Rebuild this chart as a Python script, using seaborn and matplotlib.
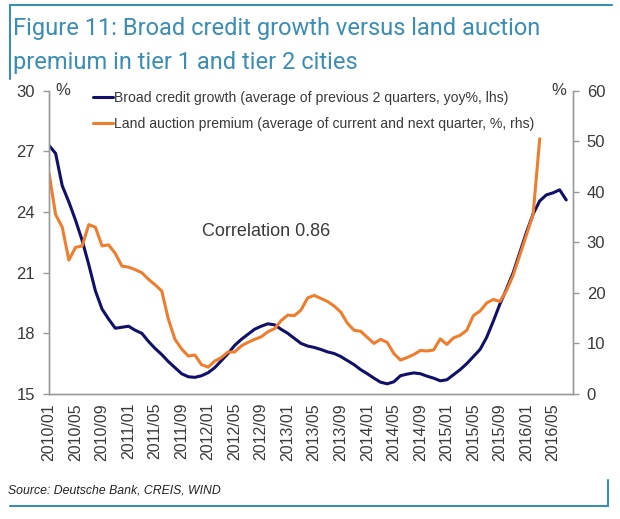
import matplotlib
matplotlib.use("Agg")
import matplotlib.pyplot as plt
import numpy as np
import pandas as pd
import seaborn as sns
from matplotlib.lines import Line2D
from matplotlib.ticker import MultipleLocator

# Monthly data, 2010/01 onwards
credit_growth = [27.3, 26.9, 25.3, 24.5, 23.6, 22.6, 21.4, 20.1, 19.2, 18.7,
                 18.25, 18.3, 18.35, 18.15, 18.0, 17.6, 17.25, 16.95, 16.6, 16.3,
                 16.0, 15.85, 15.82, 15.9, 16.05, 16.3, 16.65, 17.0, 17.4, 17.7,
                 17.95, 18.2, 18.35, 18.47, 18.42, 18.2, 18.0, 17.75, 17.5, 17.37,
                 17.3, 17.2, 17.08, 17.0, 16.85, 16.65, 16.45, 16.2, 16.0, 15.78,
                 15.58, 15.5, 15.6, 15.9, 15.98, 16.04, 16.0, 15.88, 15.78, 15.65,
                 15.7, 15.95, 16.2, 16.5, 16.85, 17.2, 17.8, 18.6, 19.45, 20.2,
                 21.0, 22.0, 23.0, 23.9, 24.55, 24.85, 24.95, 25.1, 24.6]
land_premium = [43.8, 35.5, 33.0, 26.5, 29.0, 29.3, 33.5, 33.0, 29.3, 29.5,
                27.8, 25.3, 25.1, 24.6, 24.0, 22.7, 21.6, 20.4, 14.8, 10.8,
                8.9, 7.5, 7.7, 5.8, 5.3, 6.5, 7.2, 8.3, 8.3, 9.5,
                10.2, 10.8, 11.3, 12.3, 12.9, 14.5, 15.6, 15.5, 16.6, 19.0,
                19.5, 18.9, 18.3, 17.4, 16.2, 14.0, 12.6, 12.4, 11.2, 10.0,
                10.8, 10.2, 8.0, 6.7, 7.2, 7.8, 8.6, 8.5, 8.7, 10.9,
                9.8, 11.1, 11.6, 12.6, 15.5, 16.4, 18.0, 18.7, 18.3, 20.5,
                23.5, 27.5, 31.5, 35.5, 50.5]
tick_labels = ["2010/01", "2010/05", "2010/09", "2011/01", "2011/05", "2011/09",
               "2012/01", "2012/05", "2012/09", "2013/01", "2013/05", "2013/09",
               "2014/01", "2014/05", "2014/09", "2015/01", "2015/05", "2015/09",
               "2016/01", "2016/05"]

df_credit = pd.DataFrame({"month": range(len(credit_growth)), "value": credit_growth})
df_land = pd.DataFrame({"month": range(len(land_premium)), "value": land_premium})

sns.set_style("white")
plt.rcParams["font.family"] = ["Liberation Sans", "DejaVu Sans"]

navy = "#10106a"
orange = "#ef7d2e"
teal = "#3a8db5"
grey = "#9a9a9a"
text_col = "#3a3a3a"

fig = plt.figure(figsize=(6.2, 5.19), dpi=100)
ax = fig.add_axes([0.079, 0.241, 0.845, 0.584])
ax2 = ax.twinx()

sns.lineplot(data=df_credit, x="month", y="value", ax=ax, color=navy, lw=2.2,
             label="Broad credit growth (average of previous 2 quarters, yoy%, lhs)",
             legend=False)
sns.lineplot(data=df_land, x="month", y="value", ax=ax2, color=orange, lw=2.2,
             label="Land auction premium (average of current and next quarter, %, rhs)",
             legend=False)

ax.set_xlim(0, 79)
ax.set_ylim(15, 30)
ax2.set_ylim(0, 60)
ax.set_yticks([15, 18, 21, 24, 27, 30])
ax2.set_yticks([0, 10, 20, 30, 40, 50, 60])
ax.set_xticks(range(0, 77, 4))
ax.set_xticklabels(tick_labels, rotation=90, fontsize=11.5, color=text_col)
ax.xaxis.set_minor_locator(MultipleLocator(1))
ax.set_xlabel("")
ax.set_ylabel("")
ax2.set_ylabel("")

for a in (ax, ax2):
    a.spines["top"].set_visible(False)
    for s in ("left", "right", "bottom"):
        a.spines[s].set_color(grey)
        a.spines[s].set_linewidth(1.0)
    a.tick_params(axis="y", labelsize=12, labelcolor=text_col, color=grey,
                  length=4, width=1, direction="out", left=(a is ax), right=(a is ax2))
ax.tick_params(axis="x", which="both", color=grey, length=5, width=0.8,
               direction="inout", pad=4)
ax.tick_params(axis="y", pad=6)
ax2.tick_params(axis="y", pad=6)

ax.text(0.012, 1.0, "%", transform=ax.transAxes, fontsize=12, color=text_col,
        ha="left", va="center")
ax2.text(0.988, 1.0, "%", transform=ax2.transAxes, fontsize=12, color=text_col,
         ha="right", va="center")
ax.text(0.292, 0.535, "Correlation 0.86", transform=ax.transAxes, fontsize=13,
        color=text_col, ha="left", va="center")

h1, l1 = ax.get_legend_handles_labels()
h2, l2 = ax2.get_legend_handles_labels()
ax2.legend(h1 + h2, l1 + l2, loc="upper left", bbox_to_anchor=(0.06, 1.04),
           frameon=False, fontsize=10.1, handlelength=1.45, handletextpad=0.05,
           labelspacing=0.85, labelcolor=text_col)

fig.text(0.021, 0.945, "Figure 11: Broad credit growth versus land auction",
         fontsize=17, color=teal, family=["Roboto", "DejaVu Sans"], va="center")
fig.text(0.021, 0.879, "premium in tier 1 and tier 2 cities",
         fontsize=17, color=teal, family=["Roboto", "DejaVu Sans"], va="center")
fig.text(0.013, 0.054, "Source: Deutsche Bank, CREIS, WIND", fontsize=8.8,
         style="italic", color="#222222", va="center")

# frame decorations
fig.add_artist(Line2D([0.016, 0.987], [0.990, 0.990], color=teal, lw=1.5))
fig.add_artist(Line2D([0.016, 0.016], [0.990, 0.848], color=teal, lw=1.5))
fig.add_artist(Line2D([0.016, 0.981], [0.025, 0.025], color=teal, lw=1.5))
fig.add_artist(Line2D([0.981, 0.981], [0.025, 0.075], color=teal, lw=1.5))

fig.savefig("out.png", dpi=100)
